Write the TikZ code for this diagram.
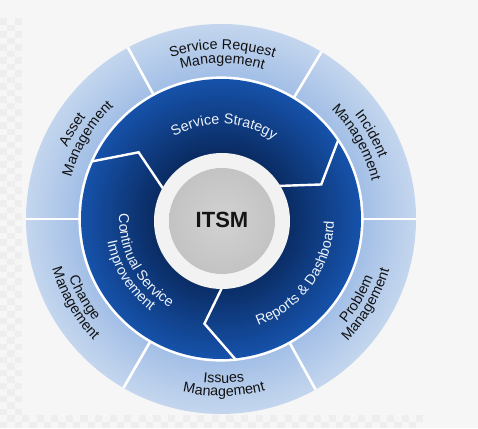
\documentclass[tikz,border=0pt]{standalone}
\usepackage{fontspec}
\setmainfont{Liberation Sans}
\usetikzlibrary{calc,decorations.text}
\definecolor{bgc}{HTML}{F6F6F6}
\definecolor{chk}{HTML}{EEEEEE}
\definecolor{lA}{HTML}{C4D6EE}
\definecolor{lB}{HTML}{A3BFE6}
\definecolor{dA}{HTML}{1652AA}
\definecolor{dB}{HTML}{0A2B61}
\definecolor{wring}{HTML}{F2F2F2}
\definecolor{gin}{HTML}{D2D2D2}
\definecolor{gout}{HTML}{C3C3C3}
\definecolor{itxt}{HTML}{EEF3FB}
\definecolor{otxt}{HTML}{111111}
\newcommand\lblfont{\fontsize{14.3}{16}\selectfont}
\newcommand\cwlabel[4]{%
  \path[decorate,decoration={text along path,text align=center,text color=#3,text={|\lblfont|#4}}]
    ($(C)+(#1+70:#2)$) arc[start angle=#1+70,end angle=#1-70,radius=#2];}
\newcommand\ccwlabel[4]{%
  \path[decorate,decoration={text along path,text align=center,text color=#3,text={|\lblfont|#4}}]
    ($(C)+(#1-70:#2)$) arc[start angle=#1-70,end angle=#1+70,radius=#2];}
\begin{document}
\begin{tikzpicture}[x=1pt,y=1pt,
  divider/.style={white,line width=2.6pt},
  seam/.style={white,line width=2.4pt,line join=miter}]
\useasboundingbox (0,0) rectangle (478,428);
\fill[bgc] (0,0) rectangle (478,428);
% faint checker strips
\foreach \i in {0,...,2}{\foreach \j in {0,...,62}{%
  \pgfmathtruncatemacro\m{mod(\i+\j,2)}%
  \ifnum\m=0 \fill[chk] (\i*7.3,\j*6.5) rectangle ++(7.3,6.5);\fi}}
\foreach \i in {3,...,57}{\foreach \j in {0,1}{%
  \pgfmathtruncatemacro\m{mod(\i+\j,2)}%
  \ifnum\m=0 \fill[chk] (\i*7.3,\j*6.5) rectangle ++(7.3,6.5);\fi}}
\coordinate (C) at (221,209);
\coordinate (C2) at (222,207);
% outer light ring
\foreach \r in {195,194,...,143}{%
  \pgfmathtruncatemacro\p{(195-\r)*100/52}%
  \fill[lB!\p!lA] (C) circle[radius=\r];}
\fill[white] (C) circle[radius=142.6];
% dark ring
\foreach \r in {140,139,...,66}{%
  \pgfmathtruncatemacro\p{(140-\r)*100/74}%
  \fill[dB!\p!dA] (C) circle[radius=\r];}
% dividers of the outer ring
\foreach \a in {0,59,118.5,180,240,299}
  \draw[divider] ($(C)+(\a:142)$) -- ($(C)+(\a:195)$);
% chevron seams of the dark ring
\foreach \a in {153,31,-87}
  \draw[seam] ($(C)+(\a:64)$) -- ($(C)+(\a-12:106)$) -- ($(C)+(\a+3:141.5)$);
% centre
\fill[wring] (C2) circle[radius=68];
\shade[inner color=gin,outer color=gout] (C2) circle[radius=53];
\node[font=\bfseries\fontsize{22}{26}\selectfont,text=black!92,inner sep=0pt] (itsm) at (222,208) {ITSM};
% outer labels
\cwlabel{89.5}{169.5}{otxt}{Service Request}
\cwlabel{89.5}{155.5}{otxt}{Management}
\cwlabel{149}{169.5}{otxt}{Asset}
\cwlabel{149}{155.5}{otxt}{Management}
\cwlabel{29.5}{169.5}{otxt}{Incident}
\cwlabel{29.5}{155.5}{otxt}{Management}
\ccwlabel{-30.5}{163}{otxt}{Problem}
\ccwlabel{-30.5}{176}{otxt}{Management}
\ccwlabel{-89}{164}{otxt}{Issues}
\ccwlabel{-89}{177}{otxt}{Management}
\ccwlabel{210}{163}{otxt}{Change}
\ccwlabel{210}{176}{otxt}{Management}
% inner labels
\cwlabel{88}{95}{itxt}{Service Strategy}
\ccwlabel{208.5}{102}{itxt}{Continual Service}
\ccwlabel{212}{116}{itxt}{Improvement}
\ccwlabel{-36}{113}{itxt}{Reports {\&} Dashboard}
\end{tikzpicture}
\end{document}
